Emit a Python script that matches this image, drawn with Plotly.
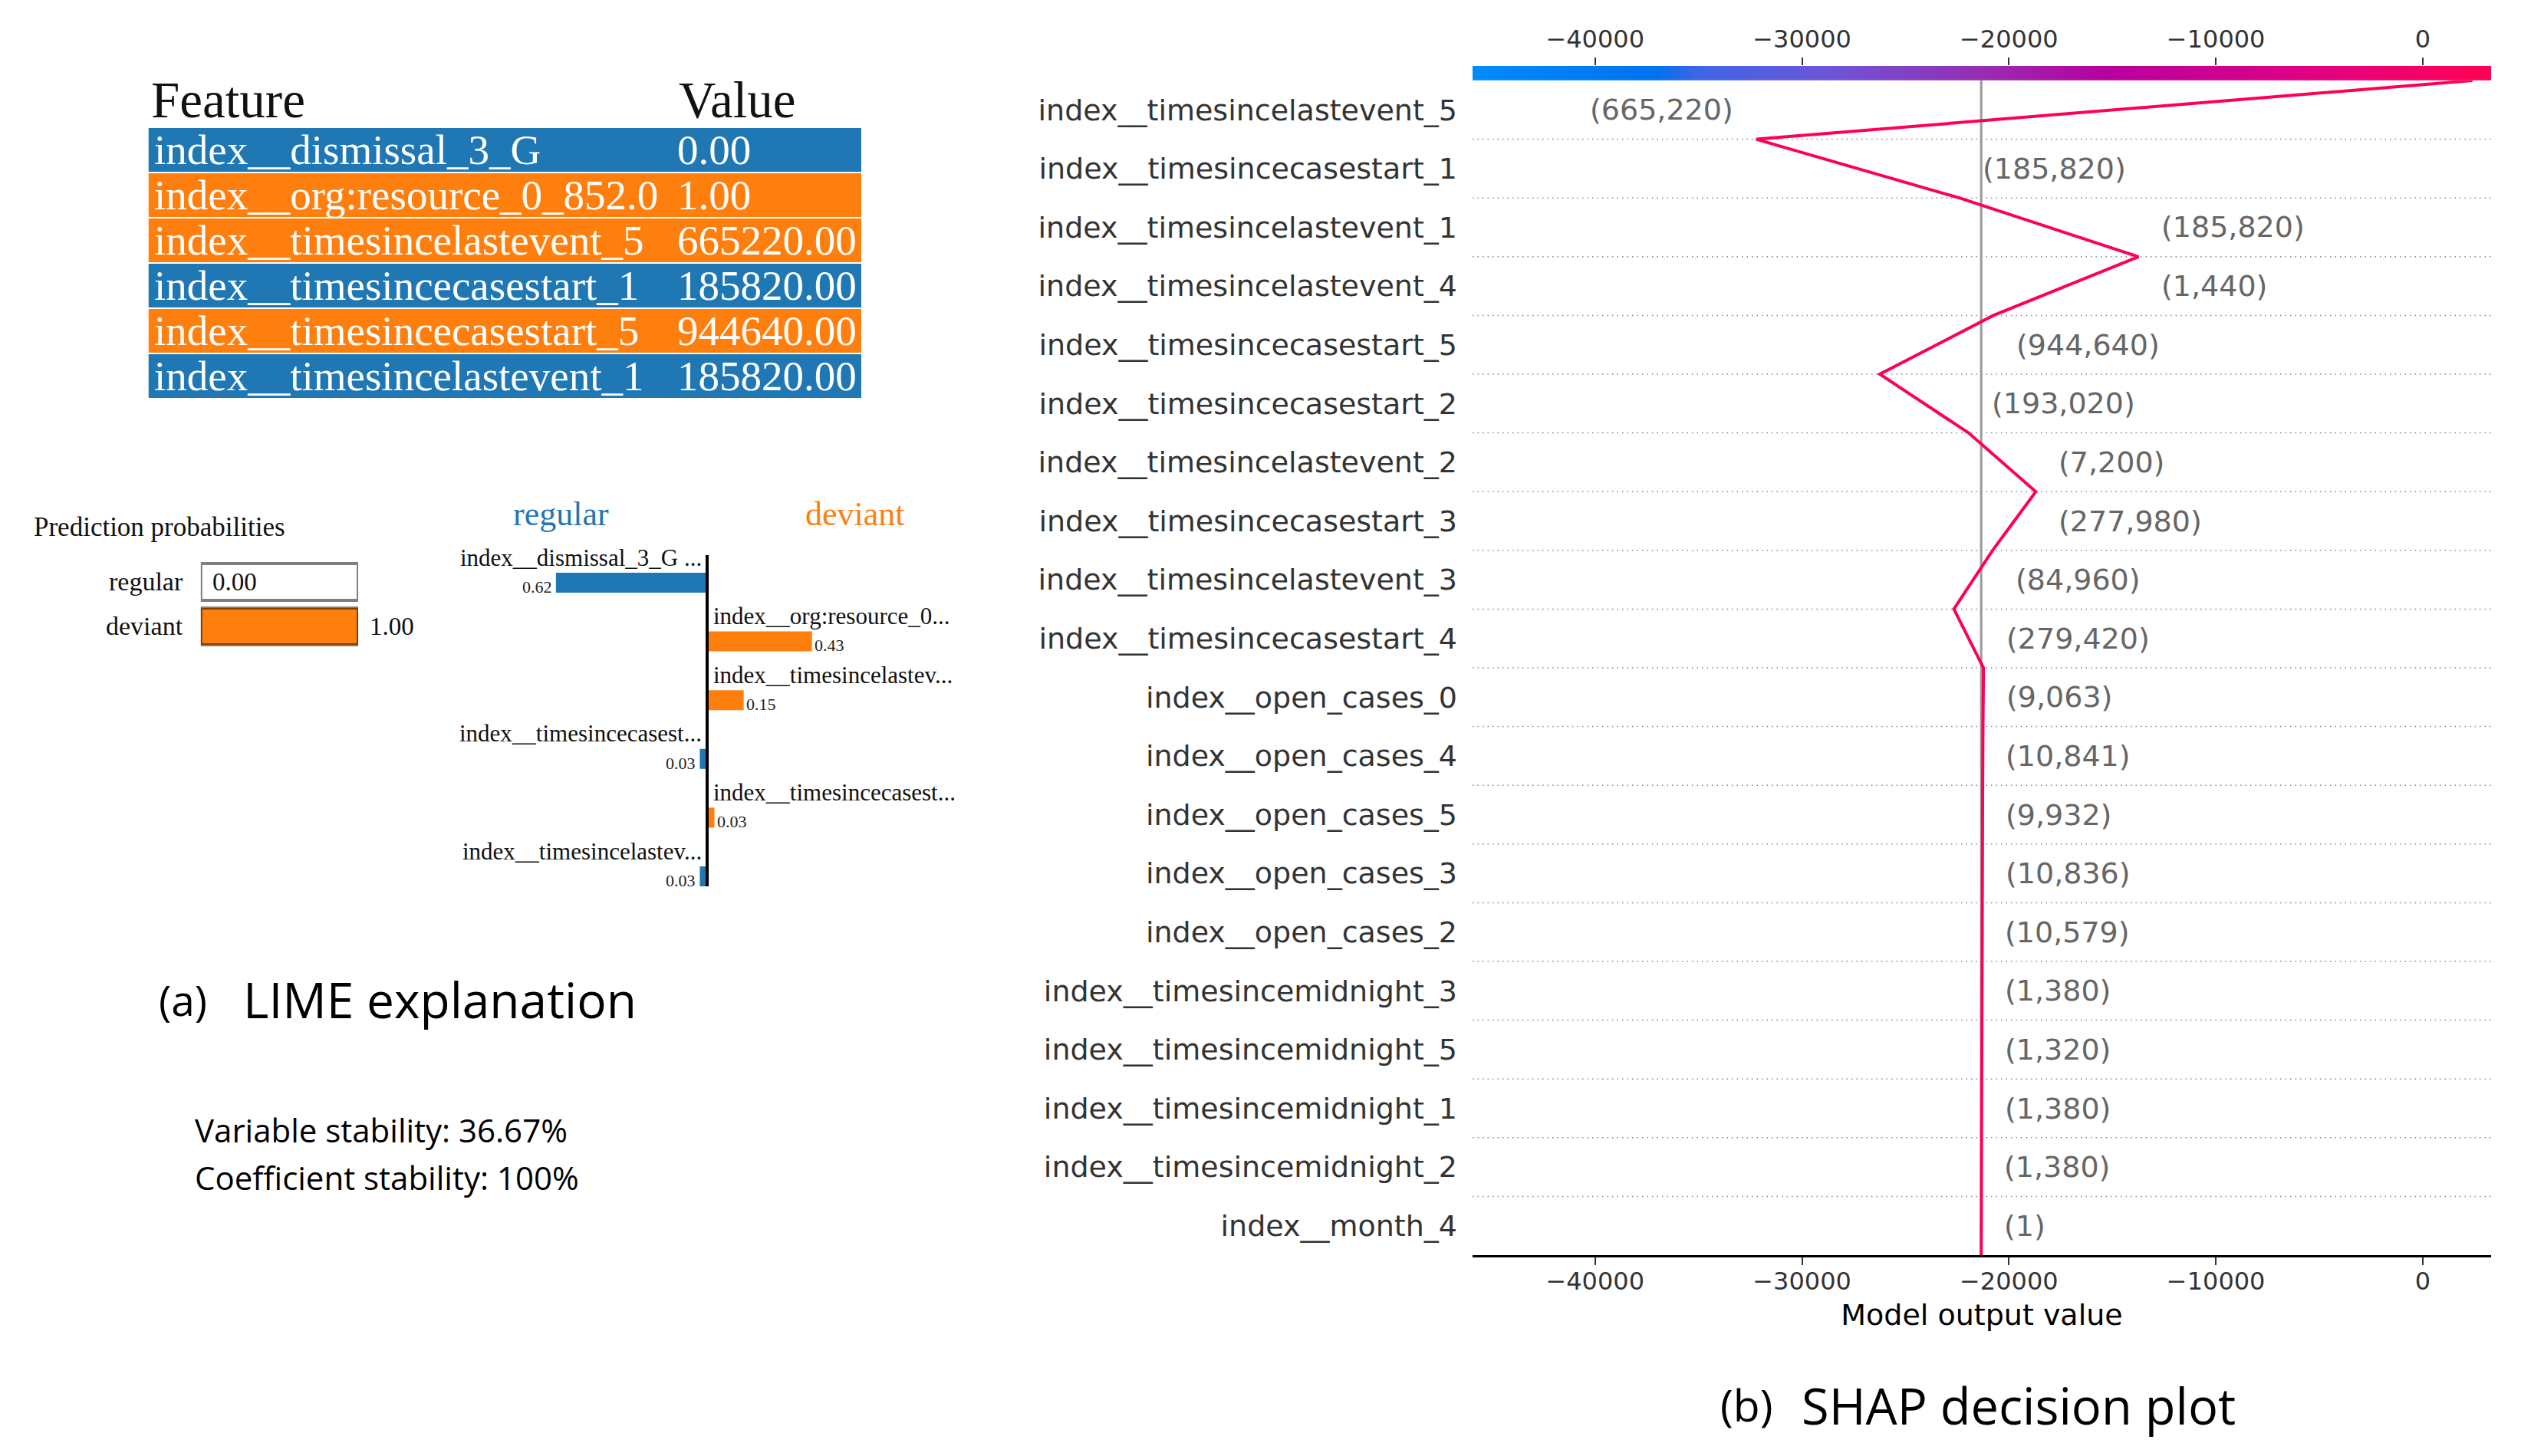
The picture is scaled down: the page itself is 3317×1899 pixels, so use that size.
import numpy as np
import plotly.graph_objects as go

W, H = 3317, 1899

# ---------------- LIME data ----------------
lime_features = ["index__dismissal_3_G", "index__org:resource_0_852.0", "index__timesincelastevent_5",
                 "index__timesincecasestart_1", "index__timesincecasestart_5", "index__timesincelastevent_1"]
lime_values = [0.00, 1.00, 665220.00, 185820.00, 944640.00, 185820.00]
lime_bar_labels = ["index__dismissal_3_G ...", "index__org:resource_0...", "index__timesincelastev...",
                   "index__timesincecasest...", "index__timesincecasest...", "index__timesincelastev..."]
lime_weights = [-0.62, 0.43, 0.15, -0.03, 0.03, -0.03]
classes = ["regular", "deviant"]
pred_probs = [0.00, 1.00]
stability_lines = ["Variable stability: 36.67%", "Coefficient stability: 100%"]

# ---------------- SHAP data (top to bottom) ----------------
shap_features = ["index__timesincelastevent_5", "index__timesincecasestart_1", "index__timesincelastevent_1",
                 "index__timesincelastevent_4", "index__timesincecasestart_5", "index__timesincecasestart_2",
                 "index__timesincelastevent_2", "index__timesincecasestart_3", "index__timesincelastevent_3",
                 "index__timesincecasestart_4", "index__open_cases_0", "index__open_cases_4",
                 "index__open_cases_5", "index__open_cases_3", "index__open_cases_2",
                 "index__timesincemidnight_3", "index__timesincemidnight_5", "index__timesincemidnight_1",
                 "index__timesincemidnight_2", "index__month_4"]
shap_feature_values = [665220, 185820, 185820, 1440, 944640, 193020, 7200, 277980, 84960, 279420,
                       9063, 10841, 9932, 10836, 10579, 1380, 1320, 1380, 1380, 1]
shap_values = [34610, -9820, -8650, 7010, 5490, -4290, -3250, 2090, 1870, -1430,
               25, 15, 10, 10, 10, 10, 10, 10, 5, 5]
base_value = -21340
shap_ticks = [-40000, -30000, -20000, -10000, 0]
x_range = [-45920, 3300]

BLUE = "#1f77b4"
ORANGE = "#ff7f0e"
SHAP_RED = "#ff0052"
shap_cmap = [[0.0, "#008bfb"], [0.18, "#0072ef"], [0.22, "#3d66e6"], [0.35, "#6d55d8"],
             [0.5, "#982db2"], [0.62, "#b8009f"], [0.75, "#d10090"], [0.88, "#ec0075"], [1.0, "#ff0052"]]


def dx(a, b):
    return [a / W, b / W]


def dy(top, bottom):
    return [1 - bottom / H, 1 - top / H]


fig = go.Figure()

# ---------------- SHAP decision plot ----------------
n = len(shap_features)
bottom_up_vals = shap_values[::-1]
cum = [base_value] + list(base_value + np.cumsum(bottom_up_vals))
ys = list(range(n + 1))

fig.add_trace(go.Scatter(x=cum, y=ys, mode="lines", line=dict(color=SHAP_RED, width=4),
                         xaxis="x", yaxis="y", hoverinfo="skip"))

# colour bar
cb_x = np.linspace(x_range[0], x_range[1], 500)
fig.add_trace(go.Heatmap(x=cb_x, y=[0], z=[cb_x], colorscale=shap_cmap, zmin=x_range[0], zmax=x_range[1],
                         showscale=False, xaxis="x2", yaxis="y2", hoverinfo="skip"))

shapes = []
for j in range(1, n):
    shapes.append(dict(type="line", xref="x domain", yref="y", x0=0, x1=1, y0=j, y1=j,
                       line=dict(color="#888888", width=1.5, dash="1.5px,5px"), layer="below"))
shapes.append(dict(type="line", xref="x", yref="y", x0=base_value, x1=base_value, y0=0, y1=n,
                   line=dict(color="#999999", width=3), layer="below"))

annotations = []
span = x_range[1] - x_range[0]
margin = 0.021 * span
bottom_up_fv = shap_feature_values[::-1]
for j in range(n):
    lo, hi = min(cum[j], cum[j + 1]), max(cum[j], cum[j + 1])
    txt = "({:,})".format(bottom_up_fv[j])
    if hi + margin > x_range[1] - 0.15 * span:
        xpos, anchor = lo - margin, "right"
    else:
        xpos, anchor = hi + margin, "left"
    annotations.append(dict(x=xpos, y=j + 0.5, xref="x", yref="y", text=txt, showarrow=False,
                            xanchor=anchor, yanchor="middle",
                            font=dict(family="DejaVu Sans", size=38, color="#666666")))

# ---------------- LIME feature bars ----------------
lime_colors = [BLUE if w < 0 else ORANGE for w in lime_weights]
rows = list(range(len(lime_weights)))
fig.add_trace(go.Bar(x=lime_weights, y=rows, orientation="h", marker=dict(color=lime_colors, line=dict(width=0)),
                     width=0.34, xaxis="x3", yaxis="y3", hoverinfo="skip"))
shapes.append(dict(type="line", xref="x3", yref="y3", x0=0, x1=0, y0=-0.47, y1=len(rows) - 1 + 0.17,
                   line=dict(color="#000000", width=4), layer="above"))
for i, (w, lab) in enumerate(zip(lime_weights, lime_bar_labels)):
    annotations.append(dict(x=0, y=i - 0.43, xref="x3", yref="y3", text=lab, showarrow=False,
                            xanchor="right" if w < 0 else "left", xshift=-5 if w < 0 else 6,
                            yanchor="middle", font=dict(family="Liberation Serif", size=31, color="#111111")))
    annotations.append(dict(x=w, y=i + 0.07, xref="x3", yref="y3", text="{:.2f}".format(abs(w)), showarrow=False,
                            xanchor="right" if w < 0 else "left", xshift=-3 if w < 0 else 1,
                            yanchor="middle", font=dict(family="Liberation Serif", size=22, color="#222222")))
annotations.append(dict(x=731 / W, y=1 - 670 / H, xref="paper", yref="paper", text=classes[0], showarrow=False,
                        xanchor="center", yanchor="middle",
                        font=dict(family="Liberation Serif", size=44, color=BLUE)))
annotations.append(dict(x=1115 / W, y=1 - 670 / H, xref="paper", yref="paper", text=classes[1], showarrow=False,
                        xanchor="center", yanchor="middle",
                        font=dict(family="Liberation Serif", size=44, color=ORANGE)))

# ---------------- Prediction probabilities ----------------
prob_rows = list(range(len(classes)))
fig.add_trace(go.Bar(x=pred_probs, y=prob_rows, orientation="h",
                     marker=dict(color=[BLUE, ORANGE], line=dict(width=0)),
                     width=0.83, xaxis="x4", yaxis="y4", hoverinfo="skip"))
fig.add_trace(go.Bar(x=[1] * len(classes), y=prob_rows, orientation="h",
                     marker=dict(color="rgba(0,0,0,0)", line=dict(color="rgba(0,0,0,0.5)", width=4)),
                     width=0.83, xaxis="x4", yaxis="y4", hoverinfo="skip"))
for i, (c, p) in enumerate(zip(classes, pred_probs)):
    annotations.append(dict(x=0, y=i, xref="x4", yref="y4", text=c, showarrow=False, xanchor="right",
                            xshift=-21, yanchor="middle",
                            font=dict(family="Liberation Serif", size=34, color="#111111")))
    annotations.append(dict(x=p, y=i, xref="x4", yref="y4", text="{:.2f}".format(p), showarrow=False,
                            xanchor="left", xshift=13, yanchor="middle",
                            font=dict(family="Liberation Serif", size=33, color="#111111")))
annotations.append(dict(x=42 / W, y=1 - 687 / H, xref="paper", yref="paper", text="Prediction probabilities",
                        showarrow=False, xanchor="left", yanchor="middle",
                        font=dict(family="Liberation Serif", size=35, color="#111111")))

# ---------------- Feature / value table ----------------
col_edges = [0, 683.5, 929.5]
zt = [[0 if w < 0 else 1] * 2 for w in lime_weights]
fig.add_trace(go.Heatmap(x=col_edges, y=rows, z=zt, zmin=0, zmax=1, showscale=False, ygap=2,
                         colorscale=[[0, BLUE], [0.5, BLUE], [0.5, ORANGE], [1, ORANGE]],
                         xaxis="x5", yaxis="y5", hoverinfo="skip"))
for i, (f, v) in enumerate(zip(lime_features, lime_values)):
    annotations.append(dict(x=col_edges[0], y=i, xref="x5", yref="y5", text=f, showarrow=False,
                            xanchor="left", xshift=5, yanchor="middle",
                            font=dict(family="Liberation Serif", size=55, color="#ffffff")))
    annotations.append(dict(x=col_edges[1], y=i, xref="x5", yref="y5", text="{:.2f}".format(v), showarrow=False,
                            xanchor="left", xshift=4, yanchor="middle",
                            font=dict(family="Liberation Serif", size=55, color="#ffffff")))
for xp, t in zip([195, 883], ["Feature", "Value"]):
    annotations.append(dict(x=xp / W, y=1 - 130 / H, xref="paper", yref="paper", text=t, showarrow=False,
                            xanchor="left", yanchor="middle",
                            font=dict(family="Liberation Serif", size=67, color="#111111")))

# ---------------- Captions ----------------
cap_font = "Open Sans"
annotations += [
    dict(x=239 / W, y=1 - 1303 / H, xref="paper", yref="paper", text="(a)", showarrow=False,
         xanchor="center", yanchor="middle", font=dict(family=cap_font, size=55, color="#000")),
    dict(x=315 / W, y=1 - 1303 / H, xref="paper", yref="paper", text="LIME explanation", showarrow=False,
         xanchor="left", yanchor="middle", font=dict(family=cap_font, size=64, color="#000")),
    dict(x=2277 / W, y=1 - 1832 / H, xref="paper", yref="paper", text="(b)", showarrow=False,
         xanchor="center", yanchor="middle", font=dict(family=cap_font, size=57, color="#000")),
    dict(x=2347 / W, y=1 - 1833 / H, xref="paper", yref="paper", text="SHAP decision plot", showarrow=False,
         xanchor="left", yanchor="middle", font=dict(family=cap_font, size=65, color="#000")),
]
for k, line in enumerate(stability_lines):
    annotations.append(dict(x=252 / W, y=1 - (1473 + 62 * k) / H, xref="paper", yref="paper", text=line,
                            showarrow=False, xanchor="left", yanchor="middle",
                            font=dict(family=cap_font, size=42, color="#000")))

hidden = dict(visible=False, showgrid=False, zeroline=False)

fig.update_layout(
    width=W, height=H, margin=dict(l=0, r=0, t=0, b=0),
    paper_bgcolor="white", plot_bgcolor="white", showlegend=False, barmode="overlay",
    xaxis=dict(domain=dx(1920, 3248), anchor="y", range=x_range, tickvals=shap_ticks, tickformat="d",
               ticks="outside", ticklen=10, tickwidth=2, tickcolor="#333333", ticklabelstandoff=-6,
               showline=True, linecolor="#000000", linewidth=3, showgrid=False, zeroline=False,
               tickfont=dict(family="DejaVu Sans", size=32, color="#333333"),
               title=dict(text="Model output value", standoff=12,
                          font=dict(family="DejaVu Sans", size=38, color="#000000"))),
    yaxis=dict(domain=dy(105, 1637), anchor="x", range=[0, n], tickvals=[j + 0.5 for j in range(n)],
               ticktext=shap_features[::-1], ticks="", showline=False, showgrid=False, zeroline=False,
               ticklabelstandoff=19, tickfont=dict(family="DejaVu Sans", size=38, color="#333333")),
    xaxis2=dict(domain=dx(1920, 3248), anchor="y2", side="top", range=x_range, tickvals=shap_ticks,
                tickformat="d", ticks="outside", ticklen=10, tickwidth=2, tickcolor="#333333", showline=False,
                showgrid=False, zeroline=False,
                tickfont=dict(family="DejaVu Sans", size=32, color="#333333")),
    yaxis2=dict(domain=dy(86, 104.7), anchor="x2", range=[-0.5, 0.5], **hidden),
    xaxis3=dict(domain=dx(600, 1260), anchor="y3", range=[(600 - 922) / 318, (1260 - 922) / 318], **hidden),
    yaxis3=dict(domain=dy(700, 1170), anchor="x3", range=[(1170 - 760) / 76.6, (700 - 760) / 76.6], **hidden),
    xaxis4=dict(domain=dx(261.8, 467), anchor="y4", range=[0, 1], **hidden),
    yaxis4=dict(domain=dy(730, 846), anchor="x4", range=[1.5, -0.5], **hidden),
    xaxis5=dict(domain=dx(193.5, 1123), anchor="y5", range=[0, 929.5], **hidden),
    yaxis5=dict(domain=dy(166, 520), anchor="x5", range=[5.5, -0.5], **hidden),
    shapes=shapes, annotations=annotations,
)

fig.write_html("out.html", config={"displayModeBar": False},
               post_script="document.body.style.margin='0px';document.body.style.overflow='hidden';")
